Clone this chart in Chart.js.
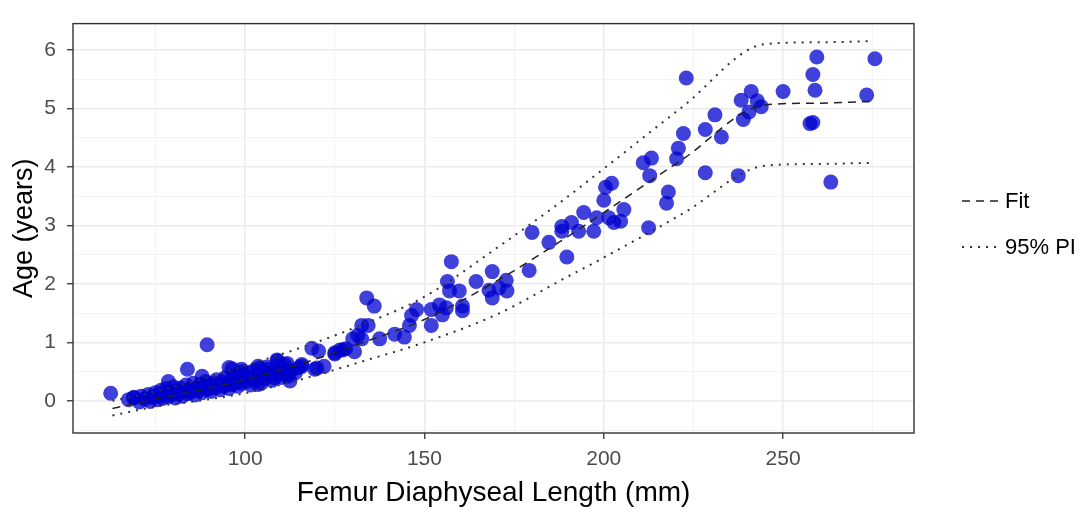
<!DOCTYPE html>
<html>
<head>
<meta charset="utf-8">
<script src="https://cdn.jsdelivr.net/npm/chart.js@4.4.1/dist/chart.umd.min.js"></script>
<style>
  html, body { margin: 0; padding: 0; background: #fff; }
</style>
</head>
<body>
<canvas id="ageChart" width="1084" height="512"></canvas>
<script>
// observed femur length (mm) and age (years)
const femurLength = [
    67.5, 69, 70.5, 71, 72, 73, 73.5, 74, 75, 75.5,
    76, 76.5, 77, 77.5, 78, 78.5, 79, 79.5, 80, 80.5,
    81, 81.5, 82, 82.5, 83, 83.5, 84, 84.5, 85, 85.5,
    86, 86.5, 87, 87.5, 88, 88.5, 89, 89.5, 90, 90.5,
    91, 91.5, 92, 92.5, 93, 93.5, 94, 94.5, 95, 95.5,
    96, 96.5, 97, 97.5, 98, 98.5, 99, 99.5, 100.5, 101,
    101.5, 102, 102.5, 103, 104, 104.5, 105, 105.5, 106, 107,
    107.5, 108, 109, 110, 110.5, 111, 112, 113, 114, 115,
    62.5, 68.9, 78.6, 83.9, 88, 89.4, 95.5, 99, 104, 109,
    111.7, 115.8, 118.6, 120.5, 120, 122, 119.4, 125, 127.2, 128,
    130, 131.4, 132.5, 133.9, 136, 134.3, 132.5, 130.5, 137.5, 141.7,
    144.4, 145.8, 146.4, 147.8, 151.9, 151.9, 154.2, 155, 156.1, 157.5,
    156.4, 157, 159.7, 160.6, 160.6, 164.4, 168.9, 168, 168.9, 170.8,
    172.8, 173, 180, 179.2, 184.7, 188.3, 189.7, 188.3, 191, 193,
    194.4, 197.2, 198, 200, 200.5, 202.2, 201.4, 202.8, 204.7, 205.6,
    212.5, 211, 213.3, 212.8, 218, 217.5, 220.3, 220.8, 222.2, 223,
    228.3, 228.3, 231, 232.8, 237.5, 238.9, 240.5, 238.3, 241.1, 242.8,
    243.9, 250, 258.3, 259.4, 258.9, 257.5, 258.3, 263.3, 273.3, 275.6,
    108.9, 109.2, 110.6, 106.4, 103.6, 102.8, 103.6, 99.2, 96.4, 95.3,
    100, 97.2, 108.3, 111.9, 112.5, 126.4, 125, 115.8
];
const ageYears = [
    0.02, 0.06, -0.02, 0.08, 0.03, 0.11, -0.01, 0.06, 0.14, 0.02,
    0.09, 0.18, 0.04, 0.12, 0.21, 0.07, 0.15, 0.10, 0.24, 0.05,
    0.17, 0.12, 0.22, 0.08, 0.16, 0.27, 0.12, 0.20, 0.15, 0.30,
    0.10, 0.22, 0.18, 0.28, 0.14, 0.24, 0.33, 0.19, 0.26, 0.16,
    0.30, 0.22, 0.36, 0.27, 0.19, 0.33, 0.25, 0.40, 0.30, 0.21,
    0.35, 0.28, 0.43, 0.32, 0.25, 0.39, 0.30, 0.44, 0.33, 0.48,
    0.27, 0.40, 0.52, 0.35, 0.45, 0.30, 0.50, 0.38, 0.58, 0.44,
    0.35, 0.52, 0.46, 0.40, 0.55, 0.62, 0.45, 0.52, 0.48, 0.57,
    0.13, 0.05, 0.33, 0.54, 0.42, 0.96, 0.57, 0.54, 0.56, 0.68,
    0.64, 0.62, 0.90, 0.85, 0.56, 0.59, 0.54, 0.82, 0.87, 0.89,
    1.06, 1.12, 1.29, 1.76, 1.62, 1.29, 1.06, 0.84, 1.06, 1.14,
    1.09, 1.29, 1.46, 1.56, 1.29, 1.56, 1.64, 1.47, 1.59, 2.38,
    2.04, 1.88, 1.88, 1.62, 1.54, 2.04, 2.21, 1.89, 1.76, 1.93,
    2.06, 1.88, 2.88, 2.23, 2.71, 2.90, 2.46, 2.98, 3.05, 2.90,
    3.22, 2.90, 3.13, 3.43, 3.65, 3.72, 3.13, 3.05, 3.07, 3.27,
    2.96, 4.07, 4.15, 3.85, 3.57, 3.38, 4.14, 4.32, 4.57, 5.52,
    3.90, 4.64, 4.89, 4.51, 3.85, 4.81, 4.94, 5.14, 5.29, 5.13,
    5.03, 5.29, 5.58, 5.88, 5.31, 4.74, 4.76, 3.74, 5.23, 5.85,
    0.70, 0.59, 0.47, 0.54, 0.59, 0.42, 0.28, 0.50, 0.55, 0.28,
    0.37, 0.37, 0.39, 0.42, 0.34, 0.87, 0.80, 0.59
];

// fitted curve and 95% prediction interval
const curveLength = [63, 75, 88, 100, 117, 133, 150, 171, 188, 200, 222, 245, 260, 275];
const fitAge = [-0.13, 0.03, 0.19, 0.36, 0.66, 1.0, 1.39, 2.08, 2.73, 3.22, 4.13, 5.06, 5.09, 5.12];
const piLower = [-0.25, -0.10, 0.01, 0.13, 0.39, 0.68, 1.0, 1.5, 2.06, 2.45, 3.2, 4.02, 4.05, 4.07];
const piUpper = [0.0, 0.16, 0.37, 0.6, 0.94, 1.31, 1.78, 2.65, 3.4, 3.97, 5.03, 6.1, 6.13, 6.15];

const xMajor = [100, 150, 200, 250];
const xMinor = [75, 125, 175, 225, 275];
const yMajor = [0, 1, 2, 3, 4, 5, 6];
const yMinor = [-0.5, 0.5, 1.5, 2.5, 3.5, 4.5, 5.5];

const FONT = 'Liberation Sans, Arial, sans-serif';

const toXY = (xs, ys) => xs.map((x, i) => ({x: x, y: ys[i]}));

const isMajor = (ctx, list) => ctx.tick && list.includes(ctx.tick.value);

// panel border + legend on the right
const frameLegend = {
    id: 'frameLegend',
    afterDraw(chart) {
        const {ctx, chartArea: a} = chart;
        ctx.save();
        ctx.strokeStyle = '#333';
        ctx.lineWidth = 1.4;
        ctx.strokeRect(a.left, a.top, a.right - a.left, a.bottom - a.top);

        ctx.strokeStyle = '#222';
        ctx.lineWidth = 1.5;
        ctx.setLineDash([8, 6]);
        ctx.beginPath();
        ctx.moveTo(962, 201);
        ctx.lineTo(1000, 201);
        ctx.stroke();

        ctx.strokeStyle = '#333';
        ctx.lineWidth = 2;
        ctx.setLineDash([2, 6]);
        ctx.beginPath();
        ctx.moveTo(962, 247);
        ctx.lineTo(1000, 247);
        ctx.stroke();
        ctx.setLineDash([]);

        ctx.fillStyle = '#000';
        ctx.font = '22px ' + FONT;
        ctx.textBaseline = 'middle';
        ctx.textAlign = 'left';
        ctx.fillText('Fit', 1005, 202);
        ctx.fillText('95% PI', 1005, 248);
        ctx.restore();
    }
};

const ageChart = new Chart(document.getElementById('ageChart'), {
    type: 'scatter',
    data: {
        datasets: [
            {
                type: 'line',
                label: 'Fit',
                data: toXY(curveLength, fitAge),
                borderColor: '#222',
                borderWidth: 1.5,
                borderDash: [8, 6],
                pointRadius: 0,
                cubicInterpolationMode: 'monotone',
                fill: false,
                order: 0,
            },
            {
                type: 'line',
                label: '95% PI',
                data: toXY(curveLength, piLower),
                borderColor: '#333',
                borderWidth: 2,
                borderDash: [2, 6],
                pointRadius: 0,
                cubicInterpolationMode: 'monotone',
                fill: false,
                order: 0,
            },
            {
                type: 'line',
                label: '95% PI upper',
                data: toXY(curveLength, piUpper),
                borderColor: '#333',
                borderWidth: 2,
                borderDash: [2, 6],
                pointRadius: 0,
                cubicInterpolationMode: 'monotone',
                fill: false,
                order: 0,
            },
            {
                label: 'Observed',
                data: toXY(femurLength, ageYears),
                backgroundColor: 'rgba(0, 0, 205, 0.75)',
                borderWidth: 0,
                pointRadius: 7.5,
                pointHoverRadius: 7.5,
                order: 1,
            },
        ]
    },
    options: {
        responsive: false,
        animation: false,
        layout: {
            padding: {top: 15, right: 170, bottom: 0, left: 0}
        },
        plugins: {
            legend: {display: false},
            tooltip: {enabled: false},
        },
        scales: {
            x: {
                type: 'linear',
                min: 52,
                max: 286.5,
                afterBuildTicks: s => {
                    s.ticks = xMajor.concat(xMinor).sort((a, b) => a - b).map(v => ({value: v}));
                },
                afterFit: s => { s.height = 79; },
                ticks: {
                    autoSkip: false,
                    maxRotation: 0,
                    padding: 8,
                    color: '#4D4D4D',
                    font: {family: FONT, size: 21},
                    callback: v => xMajor.includes(v) ? String(v) : '',
                },
                grid: {
                    color: ctx => isMajor(ctx, xMajor) ? '#EBEBEB' : '#F3F3F3',
                    lineWidth: ctx => isMajor(ctx, xMajor) ? 1.5 : 1,
                    tickColor: ctx => isMajor(ctx, xMajor) ? '#333' : 'rgba(0,0,0,0)',
                    tickLength: 6,
                    tickWidth: 1.3,
                },
                border: {display: false},
                title: {
                    display: true,
                    text: 'Femur Diaphyseal Length (mm)',
                    color: '#000',
                    font: {family: FONT, size: 28},
                    padding: {top: 0, bottom: 2},
                },
            },
            y: {
                type: 'linear',
                min: -0.55,
                max: 6.45,
                afterBuildTicks: s => {
                    s.ticks = yMajor.concat(yMinor).sort((a, b) => a - b).map(v => ({value: v}));
                },
                afterFit: s => { s.width = 73; },
                ticks: {
                    autoSkip: false,
                    padding: 11,
                    color: '#4D4D4D',
                    font: {family: FONT, size: 21},
                    callback: v => yMajor.includes(v) ? String(v) : '',
                },
                grid: {
                    color: ctx => isMajor(ctx, yMajor) ? '#EBEBEB' : '#F3F3F3',
                    lineWidth: ctx => isMajor(ctx, yMajor) ? 1.5 : 1,
                    tickColor: ctx => isMajor(ctx, yMajor) ? '#333' : 'rgba(0,0,0,0)',
                    tickLength: 6,
                    tickWidth: 1.3,
                },
                border: {display: false},
                title: {
                    display: true,
                    text: 'Age (years)',
                    color: '#000',
                    font: {family: FONT, size: 27},
                    padding: {top: 8, bottom: 0},
                },
            },
        },
    },
    plugins: [frameLegend],
});
</script>
</body>
</html>
